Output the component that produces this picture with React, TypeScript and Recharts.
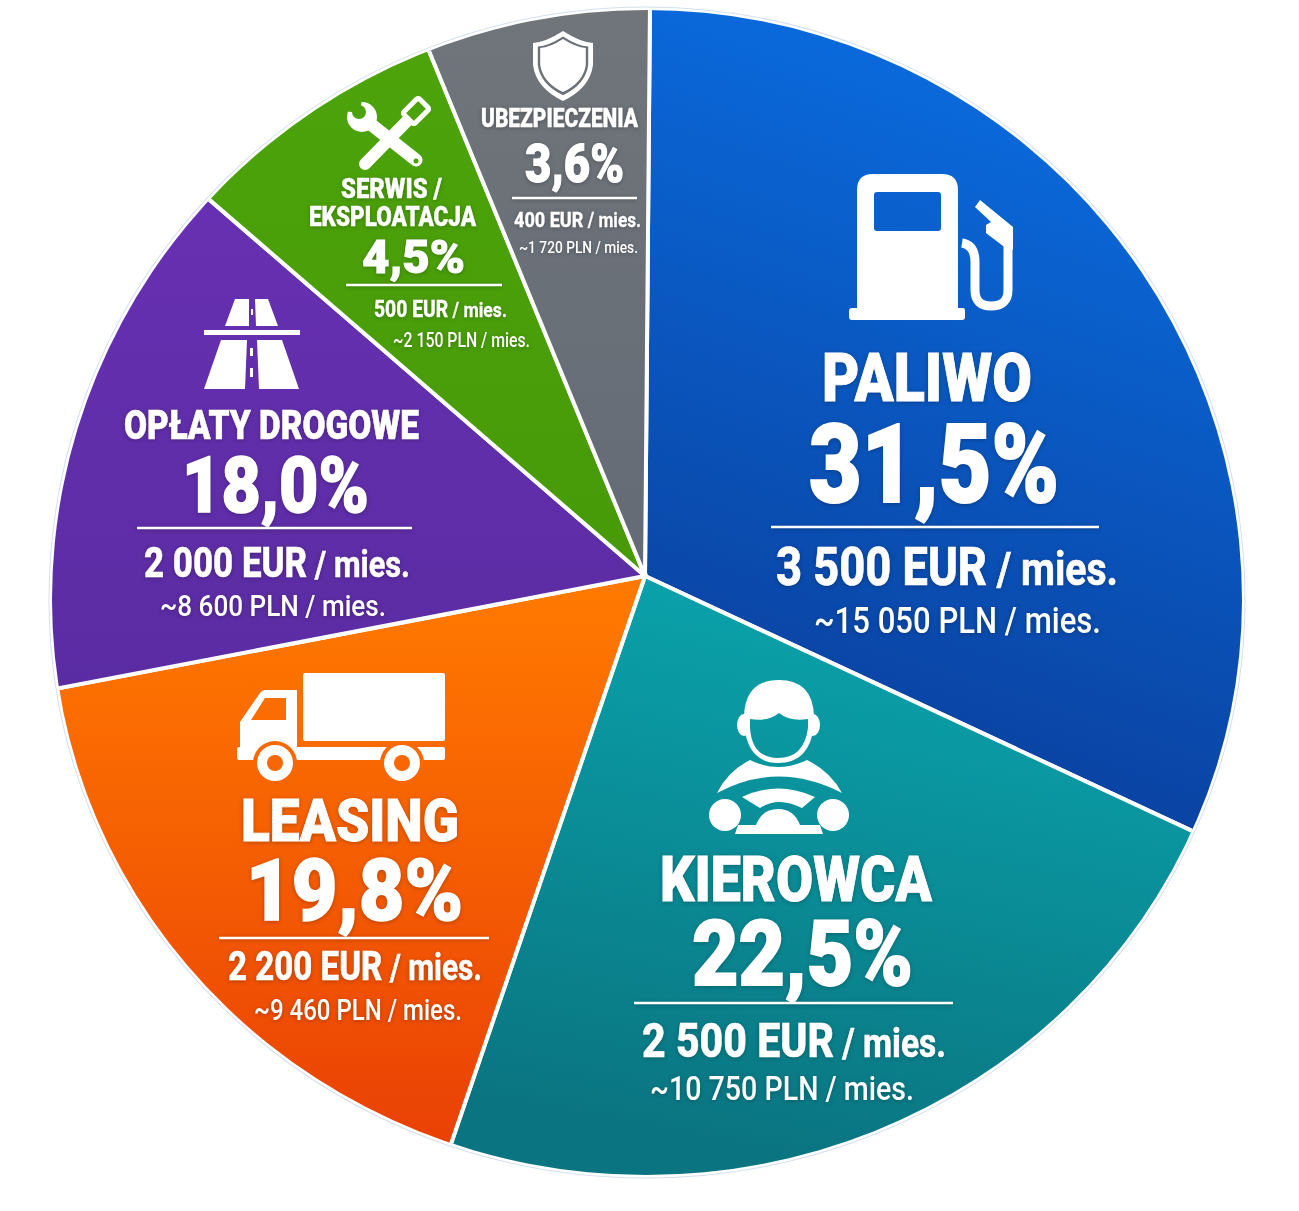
import React from 'react';
import { PieChart, Pie, Cell } from 'recharts';

const sliceNames = [['PALIWO'], ['KIEROWCA'], ['LEASING'], ['OPŁATY DROGOWE'], ['SERWIS /', 'EKSPLOATACJA'], ['UBEZPIECZENIA']];
// percentages as printed on the picture
const printedShares = ['31,5%', '22,5%', '19,8%', '18,0%', '4,5%', '3,6%'];
// wedge sizes as actually drawn in the picture (they don't follow the printed numbers)
const drawnShares = [31.8, 23.3, 16.75, 14.35, 7.45, 6.35];
const eurLabels = ['3 500 EUR', '2 500 EUR', '2 200 EUR', '2 000 EUR', '500 EUR', '400 EUR'];
const plnLabels = ['~15 050 PLN / mies.', '~10 750 PLN / mies.', '~9 460 PLN / mies.', '~8 600 PLN / mies.', '~2 150 PLN / mies.', '~1 720 PLN / mies.'];

const chartData = sliceNames.map((name, i) => ({ name: name.join(' '), share: drawnShares[i] }));

// top colour, bottom colour, gradient line x1 y1 x2 y2
const gradients: [string, string, number, number, number, number][] = [
  ['#0a69da', '#0a3c98', 1000, 100, 760, 820],
  ['#0aa0a9', '#0a7480', 900, 640, 800, 1170],
  ['#ff7800', '#ea4205', 0, 600, 0, 1130],
  ['#6730b2', '#5a2ca2', 0, 210, 0, 690],
  ['#4ca30a', '#489a08', 0, 60, 0, 570],
  ['#70757a', '#646b76', 0, 15, 0, 570],
];

// the disc in the picture is not a true circle: the wedges get clipped to this outline
const discPath = 'M52,600 A594,590 0 0 1 646,10 A596,590 0 0 1 1242,600 A596,575 0 0 1 646,1175 A594,575 0 0 1 52,600 Z';

// x, width, baseline, font size for each text line
type Line = [number, number, number, number];
interface Block {
  names: Line[];
  pct: Line;
  rule: [number, number, number];
  eur: Line;
  pln: Line;
  unitSize: number;
}

const blocks: Block[] = [
  { names: [[822, 210, 401, 67]], pct: [809, 250, 502, 109], rule: [771, 1099, 527], eur: [776, 342, 585, 53], unitSize: 46, pln: [814, 287, 633, 36] },
  { names: [[660, 272, 901, 63]], pct: [692, 221, 985, 90], rule: [634, 953, 1003], eur: [642, 304, 1057, 49], unitSize: 40, pln: [650, 264, 1100, 33] },
  { names: [[241, 218, 841, 60]], pct: [246, 217, 920, 86], rule: [219, 489, 938], eur: [228, 254, 980, 41], unitSize: 37, pln: [254, 208, 1020, 29] },
  { names: [[124, 295, 439, 40]], pct: [182, 187, 512, 78], rule: [137, 412, 528], eur: [144, 266, 577, 42], unitSize: 37, pln: [160, 226, 616, 30] },
  { names: [[341, 101, 198, 28], [309, 167, 226, 27]], pct: [362, 103, 273, 46], rule: [346, 502, 285], eur: [374, 133, 317, 23], unitSize: 21, pln: [393, 137, 347, 20] },
  { names: [[481, 157, 127, 25]], pct: [525, 99, 182, 54], rule: [512, 637, 198], eur: [514, 127, 227, 21], unitSize: 20, pln: [519, 119, 253, 17] },
];

const FONT = 'Roboto, "Noto Sans", sans-serif';

function FuelIcon() {
  return (
    <g fill="#fff">
      <path fillRule="evenodd" d="M873,174 H942 Q958,174 958,190 V308 H963 Q965,308 965,311 V317 Q965,320 962,320 H852 Q849,320 849,317 V311 Q849,308 852,308 H857 V190 Q857,174 873,174 Z M877,192 Q874,192 874,195 V228 Q874,231 877,231 H938 Q941,231 941,228 V195 Q941,192 938,192 Z" />
      <path d="M962,243 Q975,245 975,262 V290 Q975,306 991,306 Q1008,306 1008,290 V240" fill="none" stroke="#fff" strokeWidth="9" />
      <path d="M975,207 L980,200 L1013,227 L1013,250 L1003,246 L986,233 L986,225 L991,222 Z" />
    </g>
  );
}

function DriverIcon() {
  const teal = 'url(#slice1)';
  return (
    <g fill="#fff">
      <ellipse cx="744" cy="725" rx="7" ry="11" />
      <ellipse cx="813" cy="725" rx="7" ry="11" />
      <path d="M744,715 Q746,680 779,680 Q812,680 814,715 V725 Q810,763 778,763 Q748,763 744,725 Z" />
      <path fill={teal} d="M750,719 Q768,722 779,713 Q790,722 808,719 V728 Q804,758 778,758 Q752,758 750,728 Z" />
      <path d="M717,793 Q728,771 750,760 Q778,774 807,760 Q830,771 842,793 Q778,760 717,793 Z" />
      <path d="M742,797 Q778,780 815,797 L802,808 Q778,796 760,808 Z" />
      <circle cx="725" cy="815" r="16" />
      <circle cx="833" cy="815" r="16" />
      <path d="M735,834 L738,825 H756 Q762,809 778,809 Q794,809 800,825 H820 L823,834 Z" />
    </g>
  );
}

function TruckIcon() {
  const orange = 'url(#slice2)';
  return (
    <g fill="#fff">
      <rect x="303" y="673" width="142" height="68" rx="2" />
      <path d="M240,722 L260,693 Q262,690 266,690 H297 V747 H443 Q445,747 445,749 V758 Q445,760 443,760 H239 Q237,760 237,758 V749 Q237,747 239,747 H240 Z" />
      <path fill={orange} d="M251,720 L265,698 H286 V720 Z" />
      <circle cx="275" cy="763" r="22" fill={orange} />
      <circle cx="402" cy="763" r="22" fill={orange} />
      <circle cx="275" cy="763" r="18" />
      <circle cx="402" cy="763" r="18" />
      <circle cx="275" cy="763" r="8" fill={orange} />
      <circle cx="402" cy="763" r="8" fill={orange} />
    </g>
  );
}

function RoadIcon() {
  return (
    <g fill="#fff">
      <path d="M235,299 H249 V326 H225 Z" />
      <path d="M255,299 H268 L278,326 H256 Z" />
      <rect x="251" y="309" width="2" height="6" />
      <rect x="204" y="330" width="96" height="5" />
      <path d="M221,340 H247 L245,389 H204 Z" />
      <path d="M257,340 H282 L299,389 H259 Z" />
      <rect x="250" y="348" width="3" height="8" />
      <rect x="250" y="368" width="3" height="9" />
    </g>
  );
}

function ToolsIcon() {
  const green = 'url(#slice4)';
  return (
    <g>
      <line x1="368" y1="122" x2="416" y2="160" stroke="#fff" strokeWidth="13" strokeLinecap="round" />
      <circle cx="362" cy="117" r="15" fill="#fff" />
      <circle cx="359" cy="112" r="7" fill={green} />
      <path d="M360,113 L362,98 L344,96 L343,111 Z" fill={green} />
      <circle cx="416" cy="161" r="2.5" fill={green} />
      <line x1="365" y1="164" x2="407" y2="121" stroke="#fff" strokeWidth="12" strokeLinecap="round" />
      <rect x="405" y="103" width="22" height="16" rx="2" fill={green} stroke="#fff" strokeWidth="5" transform="rotate(-45 416 111)" />
    </g>
  );
}

function ShieldIcon() {
  const d = 'M563,31 Q580,42 593,43 V65 Q590,88 563,101 Q536,88 533,65 V43 Q546,42 563,31 Z';
  return (
    <g>
      <path d={d} fill="#fff" />
      <path d={d} fill="#6c7177" transform="translate(563 65) scale(0.84) translate(-563 -65)" />
      <path d={d} fill="#fff" transform="translate(563 64) scale(0.76) translate(-563 -64)" />
    </g>
  );
}

const icons = [<FuelIcon />, <DriverIcon />, <TruckIcon />, <RoadIcon />, <ToolsIcon />, <ShieldIcon />];

function renderSliceLabel({ index }: { index: number }) {
  const b = blocks[index];
  return (
    <g key={index} fontFamily={FONT} fill="#fff">
      {icons[index]}
      <g stroke="#fff" style={{ filter: 'drop-shadow(0 1px 2px rgba(0,0,0,0.25))' }}>
        {sliceNames[index].map((name, i) => (
          <text key={name} x={b.names[i][0]} y={b.names[i][2]} fontSize={b.names[i][3]} fontWeight={900} strokeWidth={b.names[i][3] * 0.014} textLength={b.names[i][1]} lengthAdjust="spacingAndGlyphs">
            {name}
          </text>
        ))}
        <text x={b.pct[0]} y={b.pct[2]} fontSize={b.pct[3]} fontWeight={900} strokeWidth={b.pct[3] * 0.02} textLength={b.pct[1]} lengthAdjust="spacingAndGlyphs">
          {printedShares[index]}
        </text>
        <line x1={b.rule[0]} x2={b.rule[1]} y1={b.rule[2]} y2={b.rule[2]} strokeWidth={2.5} />
        <text x={b.eur[0]} y={b.eur[2]} fontSize={b.eur[3]} fontWeight={800} strokeWidth={b.eur[3] * 0.012} textLength={b.eur[1]} lengthAdjust="spacingAndGlyphs">
          {eurLabels[index]}
          <tspan fontSize={b.unitSize} fontWeight={700}> / mies.</tspan>
        </text>
        <text x={b.pln[0]} y={b.pln[2]} fontSize={b.pln[3]} fontWeight={500} strokeWidth={0} textLength={b.pln[1]} lengthAdjust="spacingAndGlyphs">
          {plnLabels[index]}
        </text>
      </g>
    </g>
  );
}

export default function App() {
  return (
    <div style={{ position: 'absolute', left: 0, top: 0, width: 1299, height: 1211, background: '#fff' }}>
      <svg width={1299} height={1211} style={{ position: 'absolute', left: 0, top: 0 }}>
        <path d={discPath} fill="#fff" stroke="#d5dfee" strokeWidth={7} />
        <path d={discPath} fill="#fff" stroke="#fff" strokeWidth={5} />
      </svg>
      <PieChart width={1299} height={1211} margin={{ top: 0, right: 0, bottom: 0, left: 0 }} style={{ position: 'absolute', left: 0, top: 0 }}>
        <defs>
          <clipPath id="disc">
            <path d={discPath} />
          </clipPath>
          {gradients.map((g, i) => (
            <linearGradient key={i} id={`slice${i}`} gradientUnits="userSpaceOnUse" x1={g[2]} y1={g[3]} x2={g[4]} y2={g[5]}>
              <stop offset="0%" stopColor={g[0]} />
              <stop offset="100%" stopColor={g[1]} />
            </linearGradient>
          ))}
        </defs>
        <Pie
          data={chartData}
          dataKey="share"
          nameKey="name"
          cx={645}
          cy={576}
          innerRadius={0}
          outerRadius={660}
          startAngle={89.5}
          endAngle={-270.5}
          stroke="#fff"
          strokeWidth={4}
          labelLine={false}
          label={renderSliceLabel}
          isAnimationActive={false}
        >
          {chartData.map((d, i) => (
            <Cell key={d.name} fill={`url(#slice${i})`} clipPath="url(#disc)" />
          ))}
        </Pie>
      </PieChart>
    </div>
  );
}
